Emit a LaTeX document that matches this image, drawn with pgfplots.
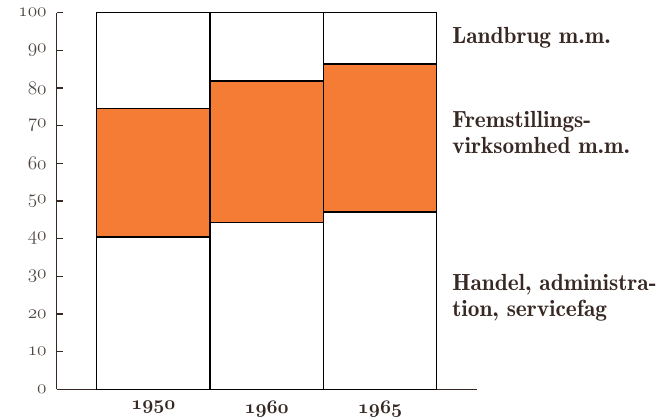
\documentclass[border=0pt]{standalone}
\usepackage{pgfplots}
\pgfplotsset{compat=1.18}
\definecolor{barorange}{RGB}{244,124,52}
\definecolor{ink}{RGB}{55,40,35}
\definecolor{tickgray}{RGB}{80,70,65}
\newcommand{\yr}[1]{{\fontsize{13.5}{16}\selectfont\boldmath$\mathnormal{#1}$}}
\newcommand{\yt}[1]{{\fontsize{14.5}{16}\selectfont$\mathnormal{#1}$}}
\begin{document}
\begin{tikzpicture}
\path[use as bounding box] (0pt,0pt) rectangle (495pt,315pt);
\begin{axis}[
  at={(42.5pt,23pt)}, anchor=south west,
  scale only axis, width=315pt, height=282.5pt,
  xmin=-0.853, xmax=2.853, ymin=0, ymax=100,
  axis x line*=bottom, axis y line*=left,
  axis line style={draw=ink, line width=1.2pt},
  ybar stacked, bar width=1,
  xtick={0,1,2}, xticklabels={\yr{1950},\yr{1960},\yr{1965}},
  x tick style={draw=none},
  ytick={0,10,...,100},
  yticklabels={\yt{0},\yt{10},\yt{20},\yt{30},\yt{40},\yt{50},\yt{60},\yt{70},\yt{80},\yt{90},\yt{100}},
  y tick style={draw=ink, line width=1pt},
  ytick align=inside, major tick length=5pt,
  yticklabel style={text=tickgray, xshift=-4pt},
  xticklabel style={text=ink, yshift=-5pt},
  clip=false,
]
\addplot[fill=white, draw=black, line width=1.2pt] coordinates {(0,40.5) (1,44.3) (2,47.0)};
\addplot[fill=barorange, draw=black, line width=1.2pt] coordinates {(0,34.1) (1,37.6) (2,39.4)};
\addplot[fill=white, draw=black, line width=1.2pt] coordinates {(0,25.4) (1,18.1) (2,13.6)};
\end{axis}
\begin{scope}[every node/.style={anchor=west, text=ink, inner sep=0pt, font=\fontsize{17.5}{19.5}\selectfont\fontseries{b}\selectfont}]
\node at (339pt,286.5pt) {Landbrug m.m.};
\node[align=left] at (339pt,215.5pt) {Fremstillings-\\virksomhed m.m.};
\node[align=left] at (339pt,92pt) {Handel, administra-\\tion, servicefag};
\end{scope}
\end{tikzpicture}
\end{document}
